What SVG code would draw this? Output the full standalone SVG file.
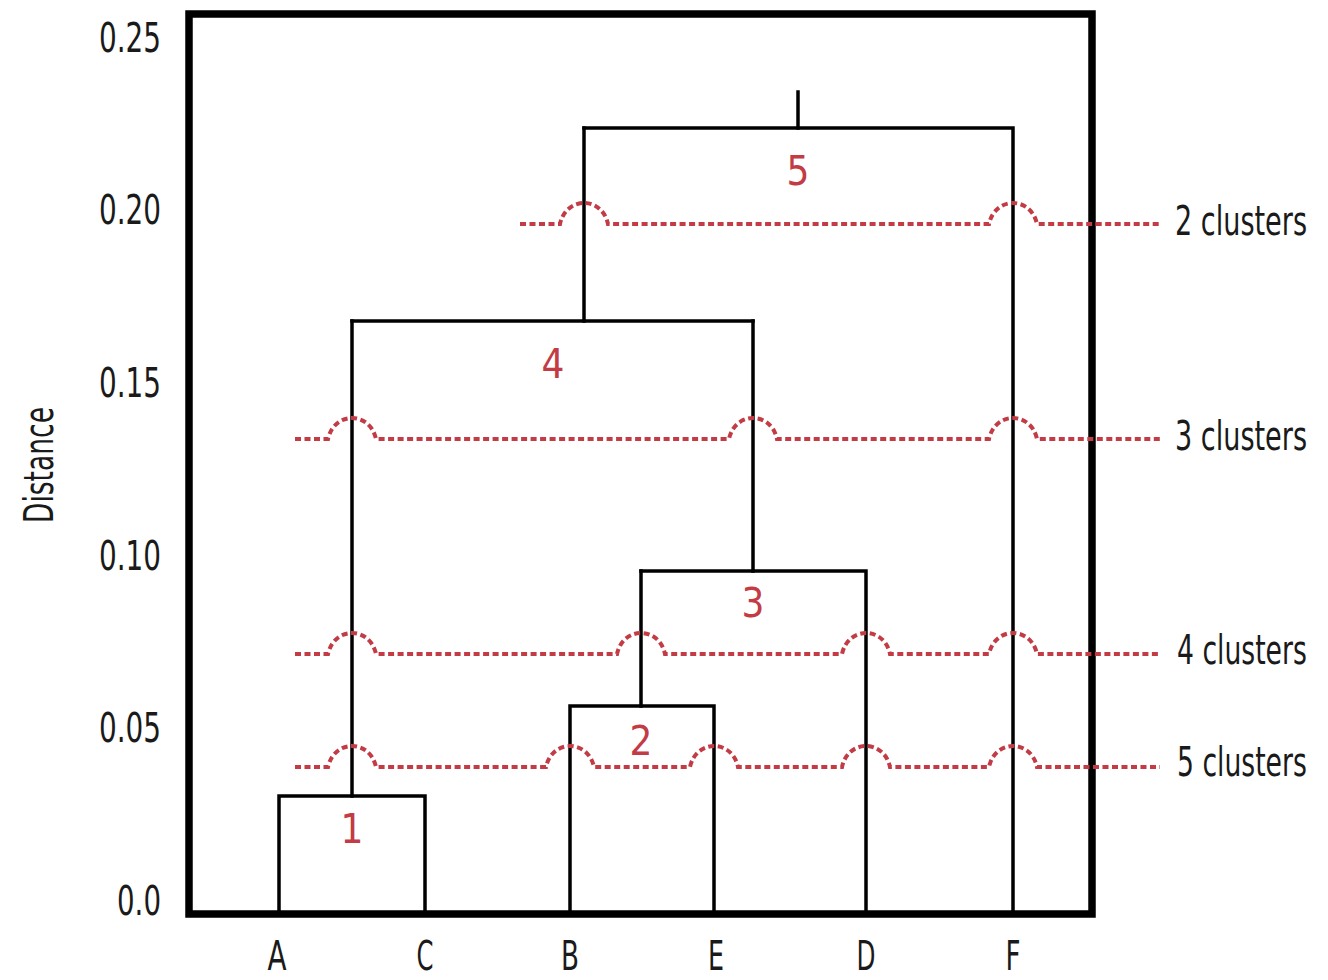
<svg xmlns="http://www.w3.org/2000/svg" width="1328" height="980" viewBox="0 0 1328 980">
<style>
.t{font-family:"Liberation Sans Narrow","DejaVu Sans Condensed","Liberation Sans",sans-serif;font-size:40px;fill:#1a1a1a}
.n{font-family:"Liberation Sans Narrow","DejaVu Sans Condensed","Liberation Sans",sans-serif;font-size:40px;fill:#c23b45;text-anchor:middle}
.d{fill:none;stroke:#000;stroke-width:3.5;stroke-linecap:square}
.c{fill:none;stroke:#c23b45;stroke-width:4;stroke-dasharray:6 3.5}
</style>
<rect width="1328" height="980" fill="#fff"/>
<g id="frame">
<rect x="189" y="14" width="903" height="900" fill="none" stroke="#000" stroke-width="7.5"/>
</g>
<g id="axis-labels" class="t">
<text x="161" y="52" text-anchor="end" textLength="62" lengthAdjust="spacingAndGlyphs">0.25</text>
<text x="161" y="224" text-anchor="end" textLength="62" lengthAdjust="spacingAndGlyphs">0.20</text>
<text x="161" y="397" text-anchor="end" textLength="62" lengthAdjust="spacingAndGlyphs">0.15</text>
<text x="161" y="570" text-anchor="end" textLength="62" lengthAdjust="spacingAndGlyphs">0.10</text>
<text x="161" y="742" text-anchor="end" textLength="62" lengthAdjust="spacingAndGlyphs">0.05</text>
<text x="161" y="915" text-anchor="end" textLength="44" lengthAdjust="spacingAndGlyphs">0.0</text>
<text transform="translate(53,465) rotate(-90)" text-anchor="middle" textLength="116" lengthAdjust="spacingAndGlyphs">Distance</text>
</g>
<g id="leaf-labels" class="t" text-anchor="middle">
<text x="277" y="970" textLength="19" lengthAdjust="spacingAndGlyphs">A</text>
<text x="425" y="970" textLength="17" lengthAdjust="spacingAndGlyphs">C</text>
<text x="570" y="970" textLength="18" lengthAdjust="spacingAndGlyphs">B</text>
<text x="716" y="970" textLength="16" lengthAdjust="spacingAndGlyphs">E</text>
<text x="866" y="970" textLength="19" lengthAdjust="spacingAndGlyphs">D</text>
<text x="1013" y="970" textLength="15" lengthAdjust="spacingAndGlyphs">F</text>
</g>
<g id="dendrogram" class="d">
<path d="M279 913V796H425V913"/>
<path d="M570 913V706H714V913"/>
<path d="M352 796V321"/>
<path d="M641 706V571"/>
<path d="M641 571H866V913"/>
<path d="M753 571V321"/>
<path d="M352 321H753"/>
<path d="M584 321V128"/>
<path d="M584 128H1013V913"/>
<path d="M798 128V92"/>
</g>
<g id="merge-labels" class="n">
<text x="352" y="843">1</text>
<text x="641" y="755">2</text>
<text x="753" y="617">3</text>
<text x="553" y="378">4</text>
<text x="798" y="185">5</text>
</g>
<g id="cuts" class="c">
<path d="M520 224H560C566 196 602 196 608 224H989C995 196 1031 196 1037 224H1160"/>
<path d="M295 439H328C334 411 370 411 376 439H729C735 411 771 411 777 439H989C995 411 1031 411 1037 439H1160"/>
<path d="M295 654H328C334 626 370 626 376 654H617C623 626 659 626 665 654H842C848 626 884 626 890 654H989C995 626 1031 626 1037 654H1160"/>
<path d="M295 767H328C334 739 370 739 376 767H546C552 739 588 739 594 767H690C696 739 732 739 738 767H842C848 739 884 739 890 767H989C995 739 1031 739 1037 767H1160"/>
</g>
<g id="cut-labels" class="t">
<text transform="translate(1175,235) scale(0.75,1)" textLength="176" lengthAdjust="spacingAndGlyphs">2 clusters</text>
<text transform="translate(1175,450) scale(0.75,1)" textLength="176" lengthAdjust="spacingAndGlyphs">3 clusters</text>
<text transform="translate(1177,664) scale(0.75,1)" textLength="173" lengthAdjust="spacingAndGlyphs">4 clusters</text>
<text transform="translate(1177,776) scale(0.75,1)" textLength="173" lengthAdjust="spacingAndGlyphs">5 clusters</text>
</g>
</svg>
